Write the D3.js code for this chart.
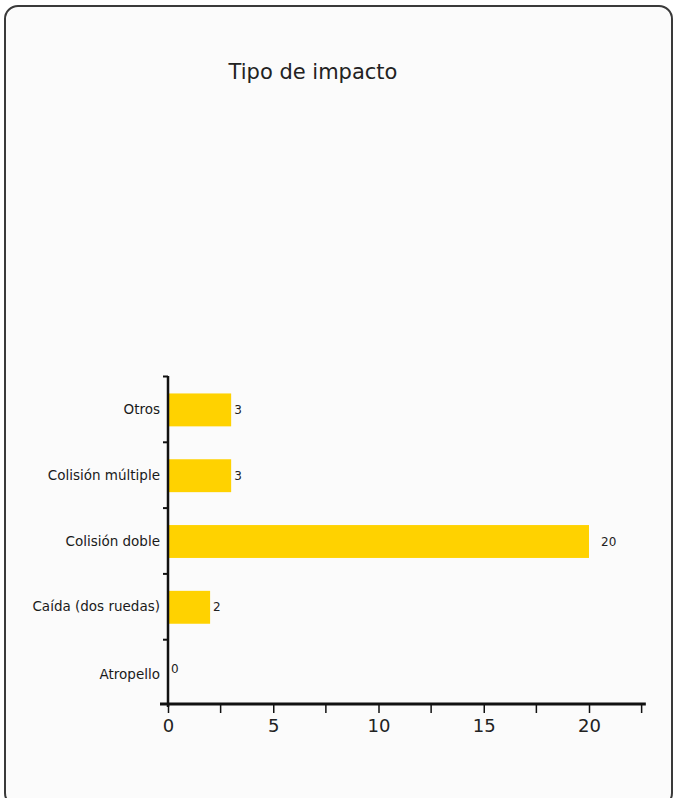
<!DOCTYPE html>
<html>
<head>
<meta charset="utf-8">
<script src="https://cdn.jsdelivr.net/npm/d3@7"></script>
<style>
  html, body { margin: 0; padding: 0; background: #ffffff; }
  svg { display: block; }
</style>
</head>
<body>
<svg id="chart" width="676" height="798"></svg>
<script>
// Data
const title = "Tipo de impacto";
const categories = ["Atropello", "Caída (dos ruedas)", "Colisión doble", "Colisión múltiple", "Otros"];
const values = [0, 2, 20, 3, 3];
const tickValues = [0, 5, 10, 15, 20];
const minorTickValues = [2.5, 7.5, 12.5, 17.5, 22.5];
const xMax = 22.7;

const font = "'DejaVu Sans', Verdana, sans-serif";
const svg = d3.select("#chart");

// Rounded frame
svg.append("rect")
  .attr("x", 5).attr("y", 6)
  .attr("width", 667).attr("height", 800)
  .attr("rx", 13).attr("ry", 13)
  .attr("fill", "#fbfbfb")
  .attr("stroke", "#3a3a3a")
  .attr("stroke-width", 2);

// Title
svg.append("text")
  .attr("x", 313).attr("y", 72)
  .attr("text-anchor", "middle")
  .attr("dominant-baseline", "central")
  .attr("font-family", font)
  .attr("font-size", 21)
  .attr("fill", "#222")
  .text(title);

// Plot geometry
const plotLeft = 168, plotTop = 376, plotBottom = 705;
const x = d3.scaleLinear().domain([0, 20]).range([plotLeft, 589]);
const y = d3.scaleBand().domain(categories).range([plotBottom, plotTop])
  .paddingInner(0.5).paddingOuter(0.25);
const step = y.step();

// Bars
svg.append("g").selectAll("rect")
  .data(categories)
  .join("rect")
  .attr("x", x(0))
  .attr("y", d => y(d) + 1)
  .attr("width", (d, i) => x(values[i]) - x(0))
  .attr("height", y.bandwidth())
  .attr("fill", "#ffd200");

// Value labels
svg.append("g").selectAll("text")
  .data(categories)
  .join("text")
  .attr("x", (d, i) => x(values[i]) + (values[i] >= 10 ? 12 : 3))
  .attr("y", (d, i) => y(d) + y.bandwidth() / 2 + 1 - (values[i] === 0 ? 4 : 0))
  .attr("dominant-baseline", "central")
  .attr("font-family", font)
  .attr("font-size", 12)
  .attr("fill", "#222")
  .text((d, i) => values[i]);

// Category labels
svg.append("g").selectAll("text")
  .data(categories)
  .join("text")
  .attr("x", 160)
  .attr("y", d => y(d) + y.bandwidth() / 2 + (d === "Atropello" ? 2 : 0))
  .attr("text-anchor", "end")
  .attr("dominant-baseline", "central")
  .attr("font-family", font)
  .attr("font-size", 13.5)
  .attr("fill", "#1a1a1a")
  .text(d => d);

// Y axis: line with a tick at the top edge of each band
const yAxis = svg.append("g");
yAxis.append("line")
  .attr("x1", plotLeft).attr("x2", plotLeft)
  .attr("y1", plotTop).attr("y2", plotBottom + 2)
  .attr("stroke", "#111").attr("stroke-width", 2.5);
yAxis.selectAll("line.tick")
  .data(categories)
  .join("line")
  .attr("class", "tick")
  .attr("x1", plotLeft - 5).attr("x2", plotLeft)
  .attr("y1", d => y(d) - step * y.paddingOuter() + 0.5)
  .attr("y2", d => y(d) - step * y.paddingOuter() + 0.5)
  .attr("stroke", "#111").attr("stroke-width", 2);

// X axis
const xAxis = d3.axisBottom(x)
  .tickValues(tickValues)
  .tickSize(9)
  .tickPadding(6)
  .tickFormat(d3.format("d"));
const gx = svg.append("g")
  .attr("transform", `translate(0,${plotBottom - 1})`)
  .call(xAxis);
gx.select(".domain").remove();
gx.append("line")
  .attr("x1", 160).attr("x2", x(xMax))
  .attr("y1", 0).attr("y2", 0)
  .attr("stroke", "#111").attr("stroke-width", 3);
gx.selectAll(".tick line").attr("stroke", "#111").attr("stroke-width", 1.5);
gx.selectAll(".tick text")
  .attr("font-family", font)
  .attr("font-size", 18)
  .attr("fill", "#222");
gx.selectAll("line.minor")
  .data(minorTickValues)
  .join("line")
  .attr("class", "minor")
  .attr("x1", d => x(Math.min(d, xMax))).attr("x2", d => x(Math.min(d, xMax)))
  .attr("y1", 0).attr("y2", 9)
  .attr("stroke", "#111").attr("stroke-width", 1.5);
</script>
</body>
</html>
